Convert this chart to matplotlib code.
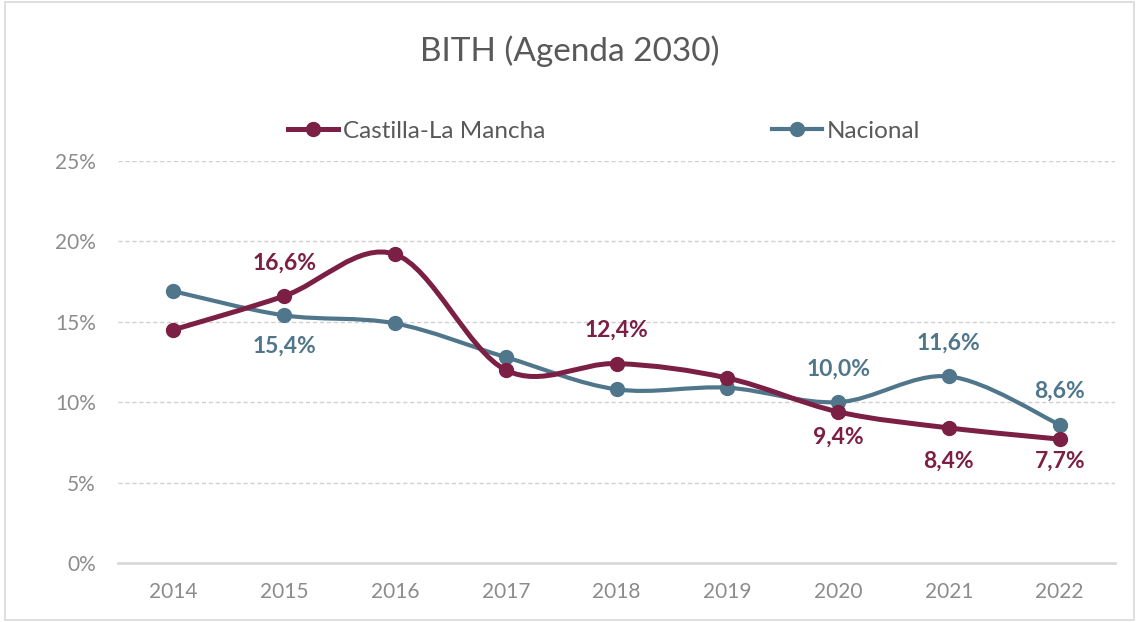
import numpy as np
import matplotlib
matplotlib.use("Agg")
import matplotlib.pyplot as plt
from matplotlib.path import Path
from matplotlib.patches import PathPatch, Rectangle
from matplotlib.lines import Line2D
from matplotlib.ticker import FuncFormatter

plt.rcParams['font.family'] = ['Lato', 'DejaVu Sans']

# data
years = ['2014', '2015', '2016', '2017', '2018', '2019', '2020', '2021', '2022']
clm = [14.5, 16.6, 19.2, 12.0, 12.4, 11.5, 9.4, 8.4, 7.7]
nacional = [16.9, 15.4, 14.9, 12.8, 10.8, 10.9, 10.0, 11.6, 8.6]

# which points get a label and vertical offset in points (+ above, - below)
clm_labels = {1: 24, 4: 24, 6: -18, 7: -24, 8: -16}
nac_labels = {1: -22, 6: 24, 7: 24, 8: 24}

c_clm = '#7B1F45'
c_nac = '#4F768B'


def smooth_path(x, y):
    # Excel-like smoothed line: Catmull-Rom turned into cubic Bezier pieces
    pts = np.column_stack([x, y]).astype(float)
    n = len(pts)
    verts = [pts[0]]
    codes = [Path.MOVETO]
    for i in range(n - 1):
        p0 = pts[i - 1] if i > 0 else pts[i]
        p1 = pts[i]
        p2 = pts[i + 1]
        p3 = pts[i + 2] if i + 2 < n else pts[i + 1]
        c1 = p1 + (p2 - p0) / 6
        c2 = p2 - (p3 - p1) / 6
        verts += [c1, c2, p2]
        codes += [Path.CURVE4] * 3
    return Path(verts, codes)


fig = plt.figure(figsize=(11.39, 6.22), dpi=100)
ax = fig.add_axes([0.1036, 0.0949, 0.8754, 0.6463])

x = np.arange(len(years))
y_clm = np.array(clm) / 100
y_nac = np.array(nacional) / 100

for yy, col, z in [(y_nac, c_nac, 3), (y_clm, c_clm, 4)]:
    lw = 3.0 if col == c_nac else 3.6
    ax.add_patch(PathPatch(smooth_path(x, yy), facecolor='none', edgecolor=col,
                           lw=lw, capstyle='round', joinstyle='round', zorder=z))
    ax.plot(x, yy, 'o', color=col, markersize=10, zorder=z + 0.5)

for i, d in clm_labels.items():
    ax.annotate(f"{clm[i]:.1f}%".replace('.', ','), (x[i], y_clm[i]),
                xytext=(0, d), textcoords='offset points', ha='center',
                va='center', fontsize=16.5, fontweight='bold', color=c_clm)
for i, d in nac_labels.items():
    ax.annotate(f"{nacional[i]:.1f}%".replace('.', ','), (x[i], y_nac[i]),
                xytext=(0, d), textcoords='offset points', ha='center',
                va='center', fontsize=16.5, fontweight='bold', color=c_nac)

ax.set_xlim(-0.5, len(years) - 0.5)
ax.set_ylim(0, 0.25)
ax.set_yticks(np.arange(0, 0.26, 0.05))
ax.yaxis.set_major_formatter(FuncFormatter(lambda v, p: f"{v * 100:.0f}%"))
ax.set_xticks(x)
ax.set_xticklabels(years)
ax.tick_params(axis='both', length=0, labelsize=15, labelcolor='#8C8C8C')
ax.tick_params(axis='x', pad=14)
ax.tick_params(axis='y', pad=16)
ax.yaxis.grid(True, color='#D0D0D0', linestyle=(0, (3, 2)), lw=1)
ax.set_axisbelow(True)
for s in ['top', 'right', 'left']:
    ax.spines[s].set_visible(False)
ax.spines['bottom'].set_color('#D9D9D9')
ax.spines['bottom'].set_linewidth(2)
ax.spines['bottom'].set_zorder(1)

fig.text(0.5, 0.918, 'BITH (Agenda 2030)', ha='center', va='center',
         fontsize=24, color='#595959')

h_clm = Line2D([], [], color=c_clm, lw=3.6, marker='o', markersize=10)
h_nac = Line2D([], [], color=c_nac, lw=3.0, marker='o', markersize=10)
leg1 = fig.legend([h_clm], ['Castilla-La Mancha'], loc='center left',
                  bbox_to_anchor=(0.2529, 0.789), frameon=False, fontsize=17.5,
                  labelcolor='#595959', handlelength=2.05, handletextpad=0.2,
                  borderpad=0, borderaxespad=0)
leg2 = fig.legend([h_nac], ['Nacional'], loc='center left',
                  bbox_to_anchor=(0.6778, 0.789), frameon=False, fontsize=17.5,
                  labelcolor='#595959', handlelength=2.05, handletextpad=0.2,
                  borderpad=0, borderaxespad=0)

fig.add_artist(Rectangle((0.004, 0.004), 0.992, 0.992, transform=fig.transFigure,
                         fill=False, edgecolor='#D9D9D9', lw=1.2))

fig.savefig('out.png', dpi=100)
